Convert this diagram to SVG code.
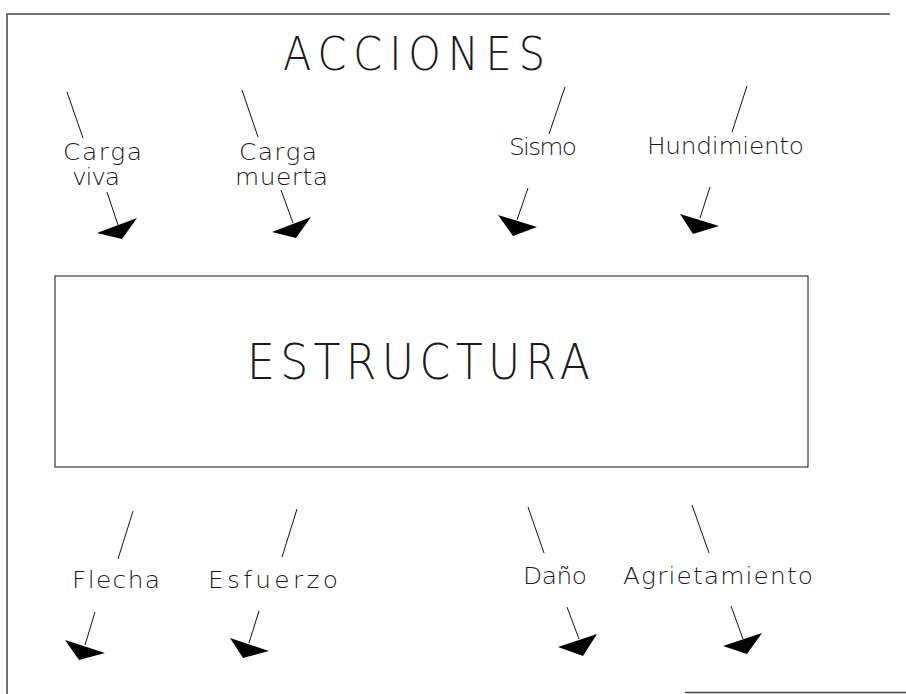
<svg xmlns="http://www.w3.org/2000/svg" width="906" height="694" viewBox="0 0 906 694">
<style>
.t{font-family:"DejaVu Sans","Liberation Sans",sans-serif;fill:#1a1a1a;font-weight:200}
.big{font-size:46px}
.big2{font-size:49px}
.lbl{font-size:23px}
.ln{stroke:#111;stroke-width:1;fill:none}
.hd{fill:#000;stroke:none}
.fr{stroke:#444;stroke-width:1.5;fill:none}
</style>
<rect width="906" height="694" fill="#fff"/>
<g id="frame">
<path class="fr" d="M7,694 V14 H890"/>
<path class="fr" d="M685,692.5 H906"/>
</g>
<g id="title">
<text class="t big" transform="scale(0.9,1)" x="314.44" y="70" textLength="291.1" lengthAdjust="spacing">ACCIONES</text>
</g>
<g id="estructura">
<rect class="ln" x="55" y="276" width="753" height="191"/>
<text class="t big2" transform="scale(0.9,1)" x="274.44" y="379" textLength="381.1" lengthAdjust="spacing">ESTRUCTURA</text>
</g>
<g id="carga-viva">
<text class="t lbl" transform="scale(1.08,1)" x="58.33" y="160" textLength="73.15" lengthAdjust="spacing">Carga</text>
<text class="t lbl" transform="scale(1.08,1)" x="66.67" y="185" textLength="44.44" lengthAdjust="spacing">viva</text>
</g>
<g id="carga-muerta">
<text class="t lbl" transform="scale(1.08,1)" x="221.3" y="160" textLength="72.22" lengthAdjust="spacing">Carga</text>
<text class="t lbl" transform="scale(1.08,1)" x="217.59" y="185" textLength="86.11" lengthAdjust="spacing">muerta</text>
</g>
<g id="sismo">
<text class="t lbl" transform="scale(1.08,1)" x="471.3" y="155" textLength="62.96" lengthAdjust="spacing">Sismo</text>
</g>
<g id="hundimiento">
<text class="t lbl" transform="scale(1.08,1)" x="599.07" y="154" textLength="145.37" lengthAdjust="spacing">Hundimiento</text>
</g>
<g id="flecha">
<text class="t lbl" transform="scale(1.08,1)" x="66.67" y="588" textLength="81.48" lengthAdjust="spacing">Flecha</text>
</g>
<g id="esfuerzo">
<text class="t lbl" transform="scale(1.08,1)" x="192.59" y="588" textLength="120.37" lengthAdjust="spacing">Esfuerzo</text>
</g>
<g id="dano">
<text class="t lbl" transform="scale(1.08,1)" x="484.26" y="584" textLength="59.26" lengthAdjust="spacing">Daño</text>
</g>
<g id="agrietamiento">
<text class="t lbl" transform="scale(1.08,1)" x="576.85" y="584" textLength="175.93" lengthAdjust="spacing">Agrietamiento</text>
</g>
<g id="connectors">
<line class="ln" x1="67" y1="92" x2="83" y2="138"/>
<line class="ln" x1="107" y1="192" x2="118" y2="225"/>
<polygon class="hd" points="97,233 137,218 122,239"/>
<line class="ln" x1="242" y1="90" x2="258" y2="137"/>
<line class="ln" x1="281" y1="190" x2="293" y2="223"/>
<polygon class="hd" points="272,232 311,217 296,238"/>
<line class="ln" x1="565" y1="87" x2="549" y2="134"/>
<line class="ln" x1="528" y1="188" x2="517" y2="220"/>
<polygon class="hd" points="498,215 537,227 513,236"/>
<line class="ln" x1="747" y1="86" x2="732" y2="132"/>
<line class="ln" x1="710" y1="187" x2="700" y2="218"/>
<polygon class="hd" points="680,214 719,226 693,234"/>
<line class="ln" x1="133" y1="511" x2="118" y2="559"/>
<line class="ln" x1="95" y1="612" x2="85" y2="645"/>
<polygon class="hd" points="65,640 105,653 79,660"/>
<line class="ln" x1="297" y1="509" x2="282" y2="557"/>
<line class="ln" x1="259" y1="611" x2="249" y2="643"/>
<polygon class="hd" points="230,638 269,651 243,658"/>
<line class="ln" x1="528" y1="507" x2="544" y2="553"/>
<line class="ln" x1="567" y1="607" x2="579" y2="639"/>
<polygon class="hd" points="558,647 597,634 583,656"/>
<line class="ln" x1="692" y1="505" x2="709" y2="553"/>
<line class="ln" x1="731" y1="606" x2="743" y2="639"/>
<polygon class="hd" points="723,646 762,633 747,654"/>
</g>
</svg>
